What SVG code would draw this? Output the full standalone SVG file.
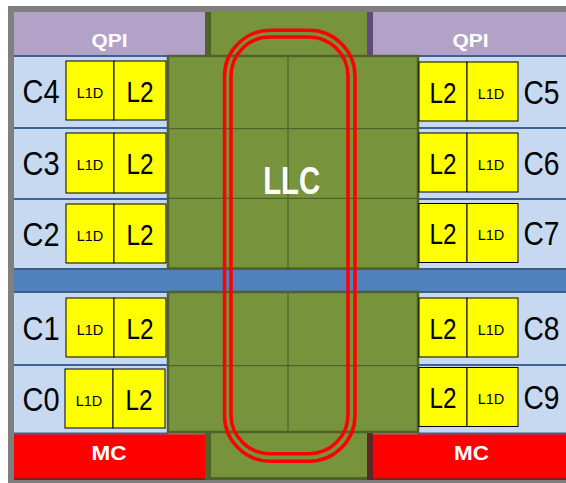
<svg xmlns="http://www.w3.org/2000/svg" width="566" height="483" viewBox="0 0 566 483">
<style>
.core{fill:#C6D9F1}
.sep{stroke:#3E6392;stroke-width:2}
.y{fill:#FFFF00;stroke:#000;stroke-width:1}
.green{fill:#77933C}
.dg{fill:#4F6228}
.llc{fill:#77933C;stroke:#4F6228;stroke-width:2.5}
.grid{stroke:#4F6228;stroke-width:1.2}
.cl{font-family:"Liberation Sans",Arial,sans-serif;font-size:34px;fill:#000;text-anchor:middle}
.l2{font-family:"Liberation Sans",Arial,sans-serif;font-size:30px;fill:#000;text-anchor:middle}
.l1{font-family:"Liberation Sans",Arial,sans-serif;font-size:14.5px;fill:#000;text-anchor:middle}
.wt{font-family:"Liberation Sans",Arial,sans-serif;font-weight:bold;fill:#fff;text-anchor:middle}
.ring{fill:none;stroke:#FF0000;stroke-width:3.5}
</style>
<rect x="0" y="0" width="566" height="483" fill="#fff"/>
<rect x="8" y="6" width="558" height="477" fill="#7F7F7F"/>
<!-- core areas -->
<rect class="core" x="14" y="55" width="154" height="379"/>
<rect class="core" x="417" y="55" width="149" height="379"/>
<g class="sep">
<line x1="14" y1="56" x2="168" y2="56"/><line x1="417" y1="56" x2="566" y2="56"/>
<line x1="14" y1="128" x2="168" y2="128"/><line x1="417" y1="128" x2="566" y2="128"/>
<line x1="14" y1="199" x2="168" y2="199"/><line x1="417" y1="199" x2="566" y2="199"/>
<line x1="14" y1="365" x2="168" y2="365"/><line x1="417" y1="365" x2="566" y2="365"/>
<line x1="14" y1="433.5" x2="168" y2="433.5"/><line x1="417" y1="433.5" x2="566" y2="433.5"/>
</g>
<!-- blue band -->
<g id="band">
<rect x="14" y="268" width="552" height="25" fill="#4F81BD"/>
<rect x="14" y="268" width="552" height="2" fill="#3B5E8C"/>
<rect x="14" y="291" width="552" height="2" fill="#3B5E8C"/>
</g>
<!-- QPI -->
<g id="qpi-left">
<rect x="14" y="12" width="191" height="43" fill="#B3A2C7"/>
<text class="wt" x="109.5" y="46.5" font-size="19" textLength="36" lengthAdjust="spacingAndGlyphs">QPI</text>
</g>
<g id="qpi-right">
<rect x="367" y="12" width="6" height="44" fill="#604A7B"/>
<rect x="373" y="12" width="193" height="43" fill="#B3A2C7"/>
<text class="wt" x="470.5" y="46.5" font-size="19" textLength="36" lengthAdjust="spacingAndGlyphs">QPI</text>
</g>
<!-- top and bottom green strips -->
<g id="llc-top-strip">
<rect class="green" x="205" y="12" width="162" height="44"/>
<rect class="dg" x="205" y="12" width="6" height="44"/>
</g>
<g id="llc-bottom-strip">
<rect class="green" x="205" y="432" width="162" height="48"/>
<rect class="dg" x="205" y="432" width="6" height="48"/>
<rect class="dg" x="205" y="477" width="162" height="3"/>
</g>
<!-- MC -->
<g id="mc-left">
<rect x="14" y="434.5" width="191" height="45.5" fill="#FF0000"/>
<rect x="14" y="478" width="191" height="2" fill="#8B1A1A"/>
<text class="wt" x="109" y="460" font-size="21" textLength="35" lengthAdjust="spacingAndGlyphs">MC</text>
</g>
<g id="mc-right">
<rect x="367" y="432" width="6" height="48" fill="#632523"/>
<rect x="373" y="434.5" width="193" height="45.5" fill="#FF0000"/>
<rect x="373" y="478" width="193" height="2" fill="#8B1A1A"/>
<text class="wt" x="471.5" y="460" font-size="21" textLength="35" lengthAdjust="spacingAndGlyphs">MC</text>
</g>
<!-- LLC blocks -->
<g id="llc-upper">
<rect class="llc" x="168" y="56" width="250" height="212.5"/>
<line class="grid" x1="288" y1="57" x2="288" y2="268"/>
<line class="grid" x1="169" y1="128.7" x2="417" y2="128.7"/>
<line class="grid" x1="169" y1="198.3" x2="417" y2="198.3"/>
<text class="wt" x="291.7" y="194" font-size="39" textLength="57" lengthAdjust="spacingAndGlyphs">LLC</text>
</g>
<g id="llc-lower">
<rect class="llc" x="168" y="292" width="250" height="140"/>
<line class="grid" x1="288" y1="293" x2="288" y2="431"/>
<line class="grid" x1="169" y1="365.7" x2="417" y2="365.7"/>
</g>
<!-- left cores -->
<g id="core-C4">
<text class="cl" x="41" y="102.5" textLength="37" lengthAdjust="spacingAndGlyphs">C4</text>
<rect class="y" x="66" y="61" width="48" height="59"/><rect class="y" x="114" y="61" width="52" height="59"/>
<text class="l1" x="90" y="97.5">L1D</text><text class="l2" x="140" y="101.5" textLength="27" lengthAdjust="spacingAndGlyphs">L2</text>
</g>
<g id="core-C3">
<text class="cl" x="41" y="175" textLength="37" lengthAdjust="spacingAndGlyphs">C3</text>
<rect class="y" x="66" y="133" width="48" height="60"/><rect class="y" x="114" y="133" width="52" height="60"/>
<text class="l1" x="90" y="170">L1D</text><text class="l2" x="140" y="174" textLength="27" lengthAdjust="spacingAndGlyphs">L2</text>
</g>
<g id="core-C2">
<text class="cl" x="41" y="245.5" textLength="37" lengthAdjust="spacingAndGlyphs">C2</text>
<rect class="y" x="66" y="204" width="48" height="59"/><rect class="y" x="114" y="204" width="52" height="59"/>
<text class="l1" x="90" y="240.5">L1D</text><text class="l2" x="140" y="244.5" textLength="27" lengthAdjust="spacingAndGlyphs">L2</text>
</g>
<g id="core-C1">
<text class="cl" x="41" y="339.5" textLength="37" lengthAdjust="spacingAndGlyphs">C1</text>
<rect class="y" x="66" y="298" width="48" height="59"/><rect class="y" x="114" y="298" width="52" height="59"/>
<text class="l1" x="90" y="334.5">L1D</text><text class="l2" x="140" y="338.5" textLength="27" lengthAdjust="spacingAndGlyphs">L2</text>
</g>
<g id="core-C0">
<text class="cl" x="41" y="410.5" textLength="37" lengthAdjust="spacingAndGlyphs">C0</text>
<rect class="y" x="65" y="369" width="48" height="59"/><rect class="y" x="113" y="369" width="52" height="59"/>
<text class="l1" x="89" y="405.5">L1D</text><text class="l2" x="139" y="409.5" textLength="27" lengthAdjust="spacingAndGlyphs">L2</text>
</g>
<!-- right cores -->
<g id="core-C5">
<rect class="y" x="419" y="62" width="48" height="59"/><rect class="y" x="467" y="62" width="51" height="59"/>
<text class="l2" x="443" y="102.5" textLength="27" lengthAdjust="spacingAndGlyphs">L2</text><text class="l1" x="491" y="98.5">L1D</text>
<text class="cl" x="541.5" y="103.5" textLength="36" lengthAdjust="spacingAndGlyphs">C5</text>
</g>
<g id="core-C6">
<rect class="y" x="419" y="133" width="48" height="59"/><rect class="y" x="467" y="133" width="51" height="59"/>
<text class="l2" x="443" y="173.5" textLength="27" lengthAdjust="spacingAndGlyphs">L2</text><text class="l1" x="491" y="169.5">L1D</text>
<text class="cl" x="541.5" y="174.5" textLength="36" lengthAdjust="spacingAndGlyphs">C6</text>
</g>
<g id="core-C7">
<rect class="y" x="419" y="203.5" width="48" height="59"/><rect class="y" x="467" y="203.5" width="51" height="59"/>
<text class="l2" x="443" y="244" textLength="27" lengthAdjust="spacingAndGlyphs">L2</text><text class="l1" x="491" y="240">L1D</text>
<text class="cl" x="541.5" y="245" textLength="36" lengthAdjust="spacingAndGlyphs">C7</text>
</g>
<g id="core-C8">
<rect class="y" x="419" y="298" width="48" height="59"/><rect class="y" x="467" y="298" width="51" height="59"/>
<text class="l2" x="443" y="338.5" textLength="27" lengthAdjust="spacingAndGlyphs">L2</text><text class="l1" x="491" y="334.5">L1D</text>
<text class="cl" x="541.5" y="339.5" textLength="36" lengthAdjust="spacingAndGlyphs">C8</text>
</g>
<g id="core-C9">
<rect class="y" x="419" y="367.5" width="48" height="59"/><rect class="y" x="467" y="367.5" width="51" height="59"/>
<text class="l2" x="443" y="408" textLength="27" lengthAdjust="spacingAndGlyphs">L2</text><text class="l1" x="491" y="404">L1D</text>
<text class="cl" x="541.5" y="409" textLength="36" lengthAdjust="spacingAndGlyphs">C9</text>
</g>
<!-- ring bus -->
<g id="connectors">
<rect class="ring" x="224.5" y="30.3" width="130.5" height="431" rx="46" ry="46"/>
<rect class="ring" x="231" y="37" width="117" height="416.7" rx="39" ry="39"/>
</g>
</svg>
